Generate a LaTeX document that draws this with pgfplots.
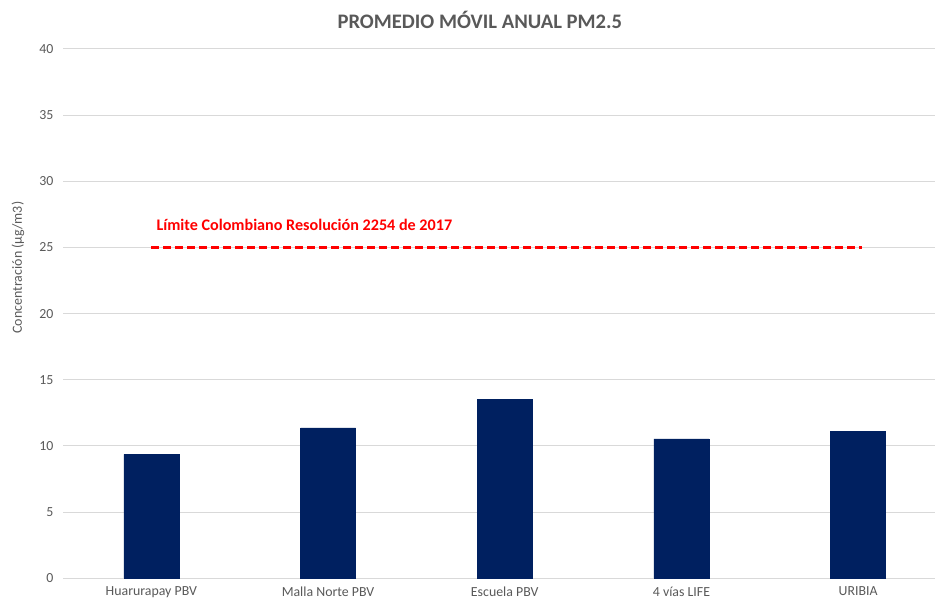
\documentclass[border=0pt]{standalone}
\usepackage{fontspec}
\setmainfont{Carlito}
\usepackage{pgfplots}
\pgfplotsset{compat=1.18}
\definecolor{bardark}{HTML}{002060}
\definecolor{txtgray}{HTML}{595959}
\definecolor{gridgray}{HTML}{D9D9D9}
\begin{document}
\begin{tikzpicture}
\path[use as bounding box] (0,0) rectangle (935bp,603bp);
\begin{axis}[
  at={(63bp,24.7bp)}, anchor=south west,
  scale only axis, width=872bp, height=529.3bp,
  xmin=-0.5, xmax=4.435, ymin=0, ymax=40,
  ytick={0,5,...,40},
  xtick={0,1,2,3,4},
  xticklabels={Huarurapay PBV, Malla Norte PBV, Escuela PBV, 4 vías LIFE, URIBIA},
  axis line style={draw=none},
  major tick length=0pt,
  ymajorgrids, grid style={gridgray, line width=1bp},
  /pgf/number format/assume math mode=true,
  tick label style={font=\fontsize{13.9}{16}\selectfont, text=txtgray},
  yticklabel style={xshift=-6bp},
  xticklabel style={yshift=-5bp},
  ylabel={Concentración (µg/m3)},
  ylabel style={font=\fontsize{14}{16}\selectfont, text=txtgray, at={(axis description cs:-0.0516,0.587)}, anchor=center},
  clip=false,
]
\addplot[ybar, bar width=0.311, fill=bardark, draw=bardark] coordinates {(0,9.36) (1,11.36) (2,13.51) (3,10.53) (4,11.11)};
\addplot[red, line width=2.6bp, dash pattern=on 8bp off 4bp] coordinates {(0,25) (4.02,25)};
\node[anchor=west, text=red, font=\bfseries\fontsize{16.2}{18}\selectfont, inner sep=0pt] at (axis cs:0,25) [xshift=5bp, yshift=23bp] {Límite Colombiano Resolución 2254 de 2017};
\node[font=\bfseries\fontsize{20.7}{23}\selectfont, text=txtgray] at (rel axis cs:0.478,1) [yshift=29bp] {PROMEDIO MÓVIL ANUAL PM2.5};
\end{axis}
\end{tikzpicture}
\end{document}
